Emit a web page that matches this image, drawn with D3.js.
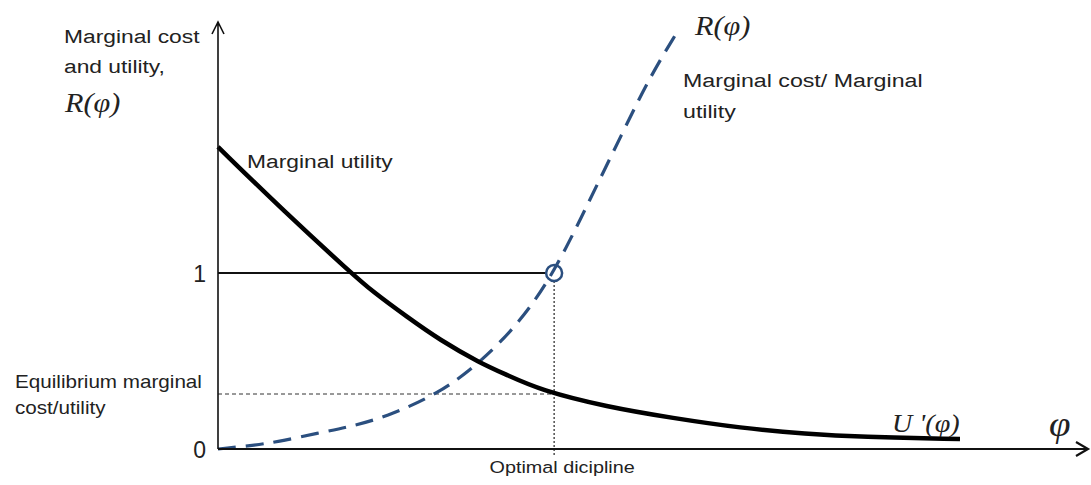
<!DOCTYPE html>
<html>
<head>
<meta charset="utf-8">
<script src="https://cdn.jsdelivr.net/npm/d3@7"></script>
<style>
  body { margin: 0; background: #fff; }
  svg text { fill: #222; }
</style>
</head>
<body>
<div id="chartContainer"></div>
<script>
// R(phi) - marginal cost (blue dashed)
var phiR = [0, 0.40, 0.81, 1.35, 1.79, 2.25, 2.97, 3.53, 4.07, 4.53, 5.01, 5.45, 5.82, 6.19];
var valR = [0, 0.017, 0.040, 0.091, 0.128, 0.180, 0.3125, 0.489, 0.72, 1.0, 1.415, 1.795, 2.114, 2.37];
// U'(phi) - marginal utility (black)
var phiU = [0, 0.90, 1.78, 2.09, 2.55, 2.99, 3.53, 3.90, 4.34, 5.24, 6.13, 7.04, 7.94, 8.65, 10];
var valU = [1.716, 1.346, 1.006, 0.892, 0.750, 0.619, 0.489, 0.420, 0.335, 0.239, 0.176, 0.119, 0.085, 0.068, 0.057];
// tick labels on the y axis
var yTicks = [0, 1];
// optimum
var phiOpt = 4.53;
var valEq = 0.3125;

var width = 1091, height = 485;
var sans = "'Liberation Sans', Arial, sans-serif";
var serif = "'Liberation Serif', 'Times New Roman', serif";
var sx = 1.2; // text in the picture is wide

var x = d3.scaleLinear().domain([0, 10]).range([218, 960]);
var y = d3.scaleLinear().domain([0, 1]).range([449, 273]);

var svg = d3.select("#chartContainer").append("svg")
    .attr("width", width)
    .attr("height", height);

function label(px, py, str, size, opts) {
    opts = opts || {};
    var t = svg.append("text")
        .attr("transform", "translate(" + px + "," + py + ") scale(" + (opts.sx || sx) + ",1)")
        .attr("font-family", opts.serif ? serif : sans)
        .attr("font-size", size)
        .attr("text-anchor", opts.anchor || "start")
        .text(str);
    if (opts.italic) t.attr("font-style", "italic");
    return t;
}

// guide lines
svg.append("line")
    .attr("x1", x(0)).attr("x2", x(phiOpt) - 8)
    .attr("y1", y(1)).attr("y2", y(1))
    .attr("stroke", "#111").attr("stroke-width", 2);

svg.append("line")
    .attr("x1", x(0)).attr("x2", x(phiOpt))
    .attr("y1", y(valEq)).attr("y2", y(valEq))
    .attr("stroke", "#333").attr("stroke-width", 1)
    .attr("stroke-dasharray", "4,3");

svg.append("line")
    .attr("x1", x(phiOpt)).attr("x2", x(phiOpt))
    .attr("y1", y(1) + 8).attr("y2", y(0) + 7)
    .attr("stroke", "#222").attr("stroke-width", 1.2)
    .attr("stroke-dasharray", "2,2");

// curves (basis smooths out reading noise)
var line = d3.line()
    .x(function(d) { return x(d[0]); })
    .y(function(d) { return y(d[1]); })
    .curve(d3.curveBasis);

svg.append("path")
    .datum(phiR.map(function(p, i) { return [p, valR[i]]; }))
    .attr("d", line)
    .attr("fill", "none")
    .attr("stroke", "#2b4f7f")
    .attr("stroke-width", 3.2)
    .attr("stroke-dasharray", "18,10");

svg.append("path")
    .datum(phiU.map(function(p, i) { return [p, valU[i]]; }))
    .attr("d", line)
    .attr("fill", "none")
    .attr("stroke", "#000")
    .attr("stroke-width", 4.5);

// optimum marker
svg.append("circle")
    .attr("cx", x(phiOpt)).attr("cy", y(1)).attr("r", 8)
    .attr("fill", "none")
    .attr("stroke", "#2b4f7f")
    .attr("stroke-width", 2.5);

// axes with open arrow heads
svg.append("path")
    .attr("d", "M" + x(0) + "," + y(0) + "V22 M" + (x(0) - 6) + ",34 L" + x(0) + ",22 L" + (x(0) + 6) + ",34")
    .attr("fill", "none").attr("stroke", "#111").attr("stroke-width", 1.6);

svg.append("path")
    .attr("d", "M" + x(0) + "," + y(0) + "H1088 M1076,442 L1088,449 L1076,456")
    .attr("fill", "none").attr("stroke", "#111").attr("stroke-width", 2.2);

// y tick labels
yTicks.forEach(function(v) {
    label(206, y(v) + 9, String(v), 23, { anchor: "end", sx: 1 });
});

// texts
label(64, 43, "Marginal cost", 19);
label(64, 73, "and utility,", 19);
label(65, 112, "R(\u03c6)", 27, { serif: true, italic: true, sx: 1.12 });

label(247, 168, "Marginal utility", 19);

label(695, 35, "R(\u03c6)", 27, { serif: true, italic: true, sx: 1.12 });
label(683, 87, "Marginal cost/ Marginal", 19, { sx: 1.22 });
label(683, 118, "utility", 19, { sx: 1.22 });

label(15, 388, "Equilibrium marginal", 17.5, { sx: 1.18 });
label(15, 414, "cost/utility", 17.5, { sx: 1.18 });

label(x(phiOpt) + 8, 473, "Optimal dicipline", 16.5, { anchor: "middle" });

label(892, 432, "U '(\u03c6)", 26, { serif: true, italic: true, sx: 1.08 });
label(1049, 436, "\u03c6", 36, { serif: true, italic: true, sx: 1.08 });
</script>
</body>
</html>
